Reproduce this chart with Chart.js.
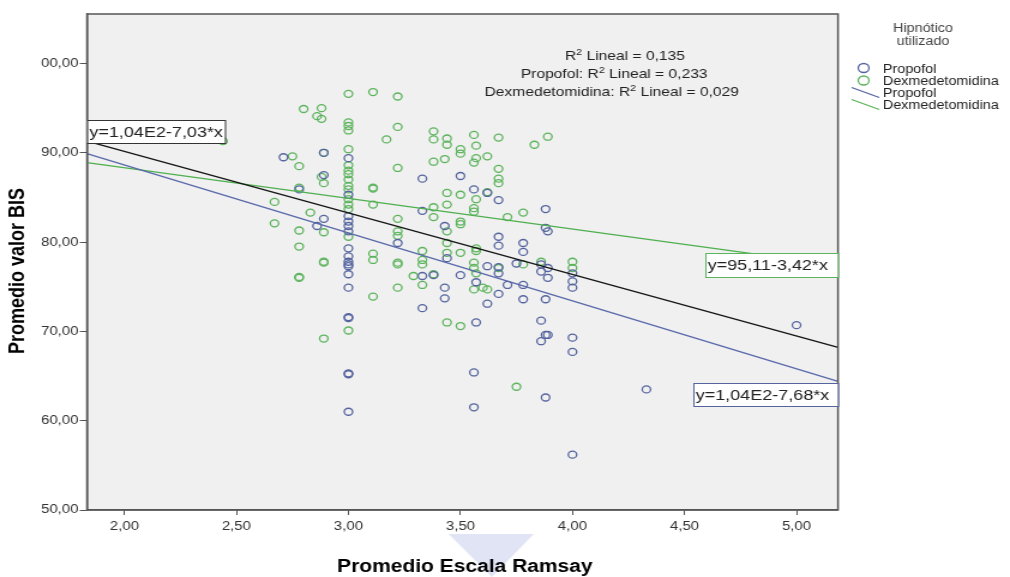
<!DOCTYPE html>
<html>
<head>
<meta charset="utf-8">
<script src="https://cdn.jsdelivr.net/npm/chart.js@4.4.1/dist/chart.umd.min.js"></script>
<style>
  html, body { margin: 0; padding: 0; background: #fff; overflow: hidden; }
  /* the original SPSS picture is stretched sideways, so draw narrow and stretch */
  #wrap { width: 842px; height: 577px; transform: scaleX(1.1995); transform-origin: 0 0; }
</style>
</head>
<body>
<div id="wrap"><canvas id="bisChart" width="842" height="577"></canvas></div>
<script>
// Scatter - Promedio Escala Ramsay vs Promedio valor BIS, by hypnotic
const ctxBis = document.getElementById('bisChart').getContext('2d');

const ramsayTicks = [2, 2.5, 3, 3.5, 4, 4.5, 5];
const ramsayTickLabels = ['2,00', '2,50', '3,00', '3,50', '4,00', '4,50', '5,00'];
const bisTicks = [50, 60, 70, 80, 90, 100];
const bisTickLabels = ['50,00', '60,00', '70,00', '80,00', '90,00', '00,00'];

// Propofol: Ramsay values and the BIS values found at each of them
const propofolRamsay = [2.71, 2.78, 2.86, 2.89, 3.00, 3.22, 3.33, 3.38, 3.43, 3.44, 3.50, 3.56,
                        3.57, 3.62, 3.67, 3.71, 3.75, 3.78, 3.86, 3.88, 3.89, 4.00, 4.33, 5.00];
const propofolBIS = [
  [89.5], [85.9], [81.8], [90.0, 87.5, 82.6],
  [89.4, 85.3, 82.9, 82.3, 81.8, 81.2, 79.3, 78.4, 77.8, 77.5, 77.3, 76.4, 74.9, 71.6, 71.5, 65.3, 65.2, 61.0],
  [79.9], [87.1, 83.5, 76.2, 72.6], [76.3], [81.8, 74.9, 73.7], [78.2], [87.4, 76.3],
  [85.9, 65.4, 61.5], [75.5, 71.0], [85.5, 77.3, 73.1], [84.7, 80.6, 79.6, 77.2, 76.5, 74.2],
  [75.2], [77.6], [79.9, 78.9, 75.2, 73.6], [77.5, 76.7, 71.2, 68.9], [83.7, 81.6, 73.6, 69.6, 62.6],
  [81.2, 77.1, 76.0, 69.6], [76.5, 75.6, 74.9, 69.3, 67.7, 56.2], [63.5], [70.7]
];

// Dexmedetomidina
const dexRamsay = [2.44, 2.67, 2.75, 2.78, 2.80, 2.83, 2.86, 2.88, 2.89, 3.00, 3.11, 3.17, 3.22, 3.29, 3.33, 3.38,
                   3.43, 3.44, 3.50, 3.56, 3.57, 3.60, 3.62, 3.67, 3.71, 3.75, 3.78, 3.83, 3.86, 3.89, 4.00];
const dexBIS = [
  [91.3], [84.5, 82.1], [89.6], [88.5, 86.1, 81.3, 79.5, 76.0, 76.1], [94.9], [83.3], [94.1], [95.0, 93.8, 87.3],
  [90.0, 86.6, 81.1, 77.7, 77.8, 69.2],
  [96.6, 93.4, 93.0, 92.5, 90.4, 88.6, 88.0, 87.6, 87.0, 86.3, 85.9, 84.8, 84.2, 83.7, 80.6, 70.1],
  [96.8, 86.1, 86.0, 84.2, 78.7, 78.0, 73.9], [91.5],
  [96.3, 92.9, 88.3, 82.6, 81.2, 80.7, 77.7, 77.5, 74.9], [76.2], [79.0, 78.0, 77.5, 75.2],
  [92.4, 91.5, 89.0, 83.9, 82.8, 76.4], [89.3], [91.6, 90.9, 85.5, 84.2, 81.2, 79.9, 78.8, 71.0],
  [90.4, 89.9, 85.3, 82.3, 82.0, 78.8, 70.6], [92.0, 88.9, 83.8, 83.4, 77.7, 77.1, 74.7],
  [90.8, 89.4, 84.8, 79.3, 79.0, 76.5], [74.9], [89.6, 85.6, 74.7], [91.7, 88.2, 87.1, 86.6, 77.1],
  [82.8], [63.8], [83.3, 77.5], [90.9], [77.8], [91.8], [77.8, 77.1]
];

// fit lines, ends at the left and right edge of the plot
const fitRamsay = [1.833, 5.185];
const fitTotal = [91.3, 68.2];
const fitPropofol = [89.9, 64.4];
const fitDexmed = [88.9, 77.4];

const toPoints = (xs, ys) => xs.flatMap((x, i) => ys[i].map(y => ({ x: x, y: y })));
const toLine = (ys) => fitRamsay.map((x, i) => ({ x: x, y: ys[i] }));

const FONT = '"Liberation Sans", Arial, sans-serif';
const BLUE = '#55649f';
const GREEN = '#5cb45c';

// R² text with a raised 2, centred on cx
function drawR2(c, prefix, suffix, cx, y) {
    c.font = '13px ' + FONT;
    const w1 = c.measureText(prefix + 'R').width;
    c.font = '9px ' + FONT;
    const w2 = c.measureText('2').width;
    c.font = '13px ' + FONT;
    const w3 = c.measureText(suffix).width;
    let x = cx - (w1 + w2 + w3) / 2;
    c.textAlign = 'left';
    c.fillText(prefix + 'R', x, y);
    x += w1;
    c.font = '9px ' + FONT;
    c.fillText('2', x, y - 5);
    x += w2;
    c.font = '13px ' + FONT;
    c.fillText(suffix, x, y);
}

function eqBox(c, text, x, y, w, h, color) {
    c.fillStyle = '#fff';
    c.fillRect(x, y, w, h);
    c.strokeStyle = color;
    c.lineWidth = 1;
    c.strokeRect(x + 0.5, y + 0.5, w, h);
    c.fillStyle = '#222';
    c.font = '15px ' + FONT;
    c.textAlign = 'left';
    c.textBaseline = 'middle';
    c.fillText(text, x + 2, y + h / 2 + 1);
    c.textBaseline = 'alphabetic';
}

const spssLook = {
    id: 'spssLook',
    beforeDraw(chart) {
        const c = chart.ctx, a = chart.chartArea;
        c.save();
        c.fillStyle = '#fff';
        c.fillRect(0, 0, chart.width, chart.height);
        // faint watermark below the x tick labels
        c.fillStyle = 'rgba(205, 210, 236, 0.6)';
        c.beginPath();
        c.moveTo(374, 534);
        c.lineTo(445, 534);
        c.lineTo(410, 577);
        c.closePath();
        c.fill();
        c.fillStyle = '#f0f0f0';
        c.fillRect(a.left, a.top, a.right - a.left, a.bottom - a.top);
        c.restore();
    },
    afterDatasetsDraw(chart) {
        const c = chart.ctx, a = chart.chartArea;
        c.save();
        c.strokeStyle = '#555';
        c.lineWidth = 1.5;
        c.strokeRect(a.left, a.top, a.right - a.left, a.bottom - a.top);

        c.fillStyle = '#222';
        drawR2(c, '', ' Lineal = 0,135', 521, 60);
        drawR2(c, 'Propofol: ', ' Lineal = 0,233', 512, 78);
        drawR2(c, 'Dexmedetomidina: ', ' Lineal = 0,029', 510, 96);

        eqBox(c, 'y=1,04E2-7,03*x', a.left, 120, 115, 23, '#333');
        eqBox(c, 'y=95,11-3,42*x', 588, 253, a.right - 588, 24, GREEN);
        eqBox(c, 'y=1,04E2-7,68*x', 578, 383, a.right - 578, 23, BLUE);
        c.restore();
    },
    afterDraw(chart) {
        const c = chart.ctx, a = chart.chartArea;
        c.save();
        // axis titles
        c.fillStyle = '#000';
        c.font = 'bold 17.5px ' + FONT;
        c.textAlign = 'center';
        c.fillText('Promedio Escala Ramsay', (a.left + a.right) / 2 + 2, 572);
        c.save();
        c.translate(20, 271);
        c.rotate(-Math.PI / 2);
        c.font = 'bold 18px ' + FONT;
        c.fillText('Promedio valor BIS', 0, 0);
        c.restore();

        // legend
        c.fillStyle = '#444';
        c.font = '12px ' + FONT;
        c.fillText('Hipnótico', 769.5, 32);
        c.fillText('utilizado', 769.5, 45);
        c.textAlign = 'left';
        c.fillStyle = '#222';
        const items = [['Propofol', 68], ['Dexmedetomidina', 80.5], ['Propofol', 92.5], ['Dexmedetomidina', 104.5]];
        items.forEach(([label, y], i) => {
            const col = i % 2 === 0 ? BLUE : GREEN;
            c.strokeStyle = col;
            c.lineWidth = 1.3;
            c.beginPath();
            if (i < 2) {
                c.arc(720, y, 4.5, 0, Math.PI * 2);
            } else {
                c.moveTo(710, y - 5);
                c.lineTo(733, y + 5);
            }
            c.stroke();
            c.fillText(label, 736, y + 4.5);
        });
        c.restore();
    }
};

const axisStyle = {
    grid: { display: true, drawOnChartArea: false, drawTicks: true, color: '#555', lineWidth: 1 },
    border: { display: true, color: '#555', width: 1.5 }
};

const bisChart = new Chart(ctxBis, {
    type: 'scatter',
    data: {
        datasets: [
            { label: 'Total', data: toLine(fitTotal), showLine: true, borderColor: '#151515', borderWidth: 1.3, pointRadius: 0 },
            { label: 'Propofol fit', data: toLine(fitPropofol), showLine: true, borderColor: '#5a69ab', borderWidth: 1.3, pointRadius: 0 },
            { label: 'Dexmedetomidina fit', data: toLine(fitDexmed), showLine: true, borderColor: '#4fb04f', borderWidth: 1.3, pointRadius: 0 },
            {
                label: 'Propofol',
                data: toPoints(propofolRamsay, propofolBIS),
                borderColor: BLUE,
                backgroundColor: 'rgba(0,0,0,0)',
                borderWidth: 1.3,
                pointRadius: 3.5
            },
            {
                label: 'Dexmedetomidina',
                data: toPoints(dexRamsay, dexBIS),
                borderColor: GREEN,
                backgroundColor: 'rgba(0,0,0,0)',
                borderWidth: 1.3,
                pointRadius: 3.5
            }
        ]
    },
    options: {
        responsive: false,
        animation: false,
        devicePixelRatio: 1,
        layout: { padding: { left: 0, right: 143.4, top: 14, bottom: 0 } },
        plugins: {
            legend: { display: false },
            tooltip: { enabled: false }
        },
        scales: {
            x: {
                type: 'linear',
                min: 1.833,
                max: 5.185,
                afterBuildTicks: s => { s.ticks = ramsayTicks.map(v => ({ value: v })); },
                afterFit: s => { s.height = 67; },
                grid: Object.assign({}, axisStyle.grid, { tickLength: 5 }),
                border: axisStyle.border,
                ticks: {
                    autoSkip: false,
                    maxRotation: 0,
                    padding: 4,
                    color: '#333',
                    font: { family: FONT, size: 12.5 },
                    callback: v => ramsayTickLabels[ramsayTicks.indexOf(v)]
                }
            },
            y: {
                type: 'linear',
                min: 50,
                max: 105.54,
                afterBuildTicks: s => { s.ticks = bisTicks.map(v => ({ value: v })); },
                afterFit: s => { s.width = 72.5; },
                grid: Object.assign({}, axisStyle.grid, { tickLength: 6 }),
                border: axisStyle.border,
                ticks: {
                    autoSkip: false,
                    padding: 1,
                    color: '#333',
                    font: { family: FONT, size: 12.5 },
                    callback: v => bisTickLabels[bisTicks.indexOf(v)]
                }
            }
        }
    },
    plugins: [spssLook]
});
</script>
</body>
</html>
